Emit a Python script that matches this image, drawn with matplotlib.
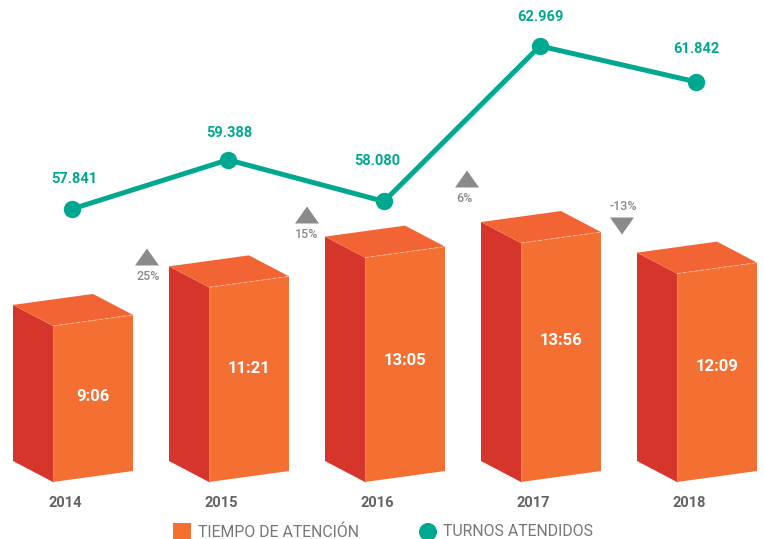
import matplotlib
matplotlib.use("Agg")
import matplotlib.pyplot as plt
from matplotlib.patches import Polygon, Rectangle, Circle

plt.rcParams['font.family'] = ['Roboto', 'DejaVu Sans']

# ---- data ----
years = ["2014", "2015", "2016", "2017", "2018"]
tiempo_labels = ["9:06", "11:21", "13:05", "13:56", "12:09"]
tiempo_min = [9 + 6/60, 11 + 21/60, 13 + 5/60, 13 + 56/60, 12 + 9/60]
turnos = [57841, 59388, 58080, 62969, 61842]
turnos_labels = ["57.841", "59.388", "58.080", "62.969", "61.842"]
cambios = ["25%", "15%", "6%", "-13%"]
cambio_up = [True, True, True, False]

# ---- style ----
C_FRONT = "#F36F32"
C_SIDE = "#D5352B"
C_TOP = "#F26433"
C_TEAL = "#00A88F"
C_GRAY = "#8A8A8C"
C_YEAR = "#636363"
C_LEG = "#777777"

W, H = 764, 539
fig = plt.figure(figsize=(W/100, H/100), dpi=100)

# bars axis: x = category index, y = minutes
PX_X = 156.0     # px per category
PX_Y = 17.15     # px per minute
X0 = 72.0        # px of first category center
BASE = 482.0     # px of zero line (front-left bottom)
ax = fig.add_axes([0, 0, 1, 1])
ax.set_xlim(-X0/PX_X, (W - X0)/PX_X)
ax.set_ylim(-(H - BASE)/PX_Y, BASE/PX_Y)
ax.axis("off")

fw = 80/PX_X          # front width
fo = -19/PX_X         # front-left offset from center
dxb = -40/PX_X        # depth x
dyb = 21/PX_Y         # depth y
sl = 11/PX_Y          # front slant
val_dy = [2, 11, 4, 17, 6]   # label lift in px

for i, (h, lab) in enumerate(zip(tiempo_min, tiempo_labels)):
    fl = i + fo
    fr = fl + fw
    front = [(fl, 0), (fr, sl), (fr, h + sl), (fl, h)]
    left = [(fl + dxb, dyb), (fl, 0), (fl, h), (fl + dxb, h + dyb)]
    top = [(fl, h), (fr, h + sl), (fr + dxb, h + sl + dyb), (fl + dxb, h + dyb)]
    ax.add_patch(Polygon(left, closed=True, facecolor=C_SIDE, edgecolor="none", zorder=2))
    ax.add_patch(Polygon(front, closed=True, facecolor=C_FRONT, edgecolor="none", zorder=2))
    ax.add_patch(Polygon(top, closed=True, facecolor=C_TOP, edgecolor="none", zorder=2))
    ax.plot([fl, fr], [h, h + sl], color="#F9B48F", lw=0.7, ls=(0, (4, 2)), zorder=3)
    ax.plot([fl, fl], [0, h], color="#F08A6A", lw=0.5, zorder=3)
    ax.text(fl + fw/2, h/2 + sl/2 + val_dy[i]/PX_Y, lab, color="white", fontsize=12,
            fontweight="bold", ha="center", va="center", zorder=4)
    ax.text(i - 6.5/PX_X, -21/PX_Y, years[i], color=C_YEAR, fontsize=10.5,
            fontweight="bold", ha="center", va="center")

# line axis
ax2 = fig.add_axes([0, 0, 1, 1])
ax2.set_xlim(ax.get_xlim())
S = 163/5128.0
ax2.set_ylim(57841 - (H - 209)/S, 57841 + 209/S)
ax2.axis("off")
ax2.patch.set_alpha(0)
xs = list(range(len(turnos)))
ax2.plot(xs, turnos, color=C_TEAL, lw=3.6, marker="o", ms=11.5, zorder=5,
         solid_capstyle="round")
lab_dx = [2, 1, -7, 0, 0]
lab_dy = [30, 27, 40, 29, 33]
for i, (v, t) in enumerate(zip(turnos, turnos_labels)):
    ax2.text(i + lab_dx[i]/PX_X, v + lab_dy[i]/S, t, color=C_TEAL, fontsize=10.5,
             fontweight="bold", ha="center", va="center")

# overlay in pixel units for annotations and legend
ov = fig.add_axes([0, 0, 1, 1])
ov.set_xlim(0, W)
ov.set_ylim(H, 0)
ov.axis("off")
ov.patch.set_alpha(0)

tri_x = [147, 307, 467, 622]
tri_y = [257, 215, 179, 226]
txt_y = [277, 235, 199, 207]
txt_x = [148, 307, 464, 623]
for k, (lab, up) in enumerate(zip(cambios, cambio_up)):
    cx, cy = tri_x[k], tri_y[k]
    if up:
        pts = [(cx - 12, cy + 8.5), (cx + 12, cy + 8.5), (cx, cy - 8.5)]
    else:
        pts = [(cx - 12, cy - 8.5), (cx + 12, cy - 8.5), (cx, cy + 8.5)]
    ov.add_patch(Polygon(pts, closed=True, facecolor=C_GRAY, edgecolor="none"))
    ov.text(txt_x[k], txt_y[k], lab, color=C_GRAY, fontsize=9, fontweight="medium",
            ha="center", va="center")

# legend
ov.add_patch(Rectangle((173, 523), 18, 18, facecolor=C_FRONT, edgecolor="none"))
ov.text(198, 532, "TIEMPO DE ATENCIÓN", color=C_LEG, fontsize=11.4, ha="left", va="center")
ov.add_patch(Circle((428, 532), 9, facecolor=C_TEAL, edgecolor="none"))
ov.text(443, 532, "TURNOS ATENDIDOS", color=C_LEG, fontsize=11.4, ha="left", va="center")

fig.savefig("out.png", dpi=100)
